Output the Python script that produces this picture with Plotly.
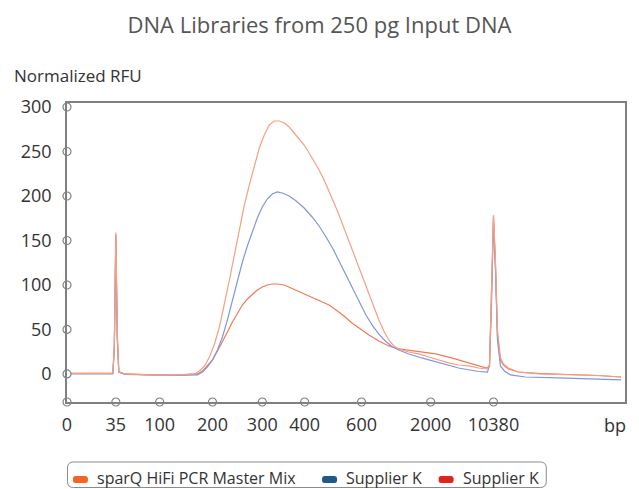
import plotly.graph_objects as go

# ---------------- data ----------------
# x = migration position (arbitrary electropherogram units), y = normalized RFU
x_tick_labels = ["0", "35", "100", "200", "300", "400", "600", "2000", "10380"]
x_tick_pos = [0, 49, 93, 146, 196, 238.5, 295.6, 365, 428]
y_ticks = [0, 50, 100, 150, 200, 250, 300]

sparq_x = [0, 33, 46, 47.5, 49, 50.5, 52, 58, 83, 113, 128, 133, 138, 143, 148, 153, 158, 163, 168,
           173, 178, 183, 188, 193, 198, 203, 208, 213, 218, 223, 228, 233, 238, 243, 248, 253, 258,
           263, 268, 273, 278, 283, 288, 293, 298, 303, 308, 313, 318, 323, 328, 333, 343, 353, 363,
           373, 383, 393, 403, 413, 421, 424, 426, 428, 430, 432, 435, 438, 443, 453, 473, 503, 533, 556]
sparq_y = [0.6, 0.6, 0.6, 32.6, 159, 43.8, 2.8, 0, -1.1, -1.1, 0, 3.4, 9.0, 19.1, 33.7, 52.8, 77.5,
           105.6, 133.7, 161.8, 189.9, 212.4, 234.8, 253.9, 268.5, 279.8, 284.3, 284.3, 282.0, 277.5,
           270.8, 264.0, 257.3, 248.3, 239.3, 229.2, 218.0, 205.6, 192.1, 178.7, 164.0, 148.3, 132.6,
           118.0, 103.4, 88.8, 74.2, 60.7, 48.3, 38.2, 31.5, 28.1, 24.7, 22.5, 19.1, 15.7, 12.4, 10.1,
           9.0, 6.7, 5.6, 7.9, 83.1, 178.7, 128.1, 49.4, 18.0, 11.2, 6.7, 2.2, 0, -0.6, -1.7, -3.4]

supk1_x = [0, 33, 46, 47.5, 49, 50.5, 52, 58, 83, 113, 131, 136, 141, 146, 151, 156, 161, 166, 171,
           176, 181, 186, 191, 196, 201, 206, 211, 216, 223, 230, 238, 246, 253, 260, 267, 273, 280,
           286, 293, 300, 307, 313, 320, 326, 333, 343, 356, 373, 393, 413, 422, 424, 426, 428, 430,
           432, 435, 439, 445, 460, 493, 523, 556]
supk1_y = [0, 0, 0, 27, 155, 38, 2.2, -0.6, -1.1, -1.7, -1.1, 2.2, 7.9, 15.7, 27.0, 41.6, 60.7, 83.1,
           105.6, 125.8, 143.8, 160.7, 175.3, 187.6, 196.6, 202.2, 204.5, 203.4, 200.0, 194.4, 186.5,
           176.4, 166.3, 153.9, 140.4, 127.0, 111.0, 96.3, 80.7, 66.2, 53.8, 44.8, 36.5, 30.8, 27.0,
           22.5, 18.0, 12.4, 6.7, 2.8, 2.2, 10.1, 94.4, 170.8, 116.9, 38.2, 9.0, 3.4, -1.1, -3.4, -4.5,
           -5.6, -6.7]

supk2_x = [0, 33, 46, 47.5, 49, 50.5, 52, 58, 83, 113, 131, 136, 141, 146, 151, 156, 161, 166, 171,
           176, 181, 186, 191, 196, 201, 206, 211, 218, 225, 233, 241, 248, 255, 263, 270, 278, 286,
           293, 303, 313, 323, 333, 353, 370, 386, 403, 413, 421, 424, 426, 428, 430, 432, 435, 438,
           443, 453, 473, 503, 533, 556]
supk2_y = [0.6, 0.6, 0.6, 30, 157, 41.6, 2.2, 0, -1.1, -1.1, 0, 3.4, 9.0, 15.7, 25.8, 36.0, 47.2,
           58.4, 68.5, 77.5, 84.3, 89.9, 94.4, 97.8, 100.0, 101.1, 101.1, 100.0, 96.6, 92.1, 88.8,
           85.4, 82.0, 77.5, 71.9, 65.2, 57.3, 51.7, 43.8, 37.1, 31.5, 28.1, 24.7, 22.5, 18.0, 12.4,
           9.0, 6.7, 9.0, 77.5, 177.5, 122.5, 43.8, 15.7, 10.1, 5.6, 2.2, 0.6, -0.6, -1.7, -3.4]

legend_names = ["sparQ HiFi PCR Master Mix", "Supplier K", "Supplier K"]
legend_colors = ["#f26522", "#1c5a8c", "#e2231a"]
line_colors = ["#f69f81", "#7f97dd", "#f27a55"]

# ---------------- figure ----------------
X_RANGE = [0, 560]
Y_RANGE = [-31.5, 304.5]
W, H = 639, 489
ML, MR, MT, MB = 67, 12, 103, 87
PW, PH = W - ML - MR, H - MT - MB

FONT = "Open Sans, Noto Sans, sans-serif"
TXT = "#333333"
AX = "#808080"

fig = go.Figure()
for xs, ys, c in [(supk2_x, supk2_y, line_colors[2]),
                  (supk1_x, supk1_y, line_colors[1]),
                  (sparq_x, sparq_y, line_colors[0])]:
    fig.add_trace(go.Scatter(x=xs, y=ys, mode="lines", line=dict(color=c, width=1.2),
                             showlegend=False, hoverinfo="skip"))

# open-circle tick markers on the axes
fig.add_trace(go.Scatter(x=x_tick_pos, y=[Y_RANGE[0]] * len(x_tick_pos), mode="markers",
                         marker=dict(symbol="circle", size=8, color="white",
                                     line=dict(color=AX, width=1.2)),
                         cliponaxis=False, showlegend=False, hoverinfo="skip"))
fig.add_trace(go.Scatter(x=[X_RANGE[0]] * len(y_ticks), y=y_ticks, mode="markers",
                         marker=dict(symbol="circle", size=8, color="white",
                                     line=dict(color=AX, width=1.2)),
                         cliponaxis=False, showlegend=False, hoverinfo="skip"))


def pp(px, py):
    return (px - ML) / PW, (H - MB - py) / PH


def rrect(x0, y0, x1, y1, r):
    def P(a, b):
        u, v = pp(a, b)
        return f"{u:.5f},{v:.5f}"
    pts = ["M" + P(x0 + r, y0), "L" + P(x1 - r, y0),
           "Q" + P(x1, y0) + " " + P(x1, y0 + r), "L" + P(x1, y1 - r),
           "Q" + P(x1, y1) + " " + P(x1 - r, y1), "L" + P(x0 + r, y1),
           "Q" + P(x0, y1) + " " + P(x0, y1 - r), "L" + P(x0, y0 + r),
           "Q" + P(x0, y0) + " " + P(x0 + r, y0)]
    return " ".join(pts) + " Z"


shapes = [dict(type="path", xref="paper", yref="paper", path=rrect(67.5, 462, 548, 487.5, 6),
               line=dict(color="#8a8a8a", width=1), fillcolor="white", layer="above")]
annotations = []
sw_x = [73, 323, 440]
tx_x = [95, 345, 462]
for sx, tx, name, col in zip(sw_x, tx_x, legend_names, legend_colors):
    shapes.append(dict(type="path", xref="paper", yref="paper", path=rrect(sx, 476, sx + 15, 483, 2.5),
                       line=dict(width=0), fillcolor=col, layer="above"))
    u, v = pp(tx, 478)
    annotations.append(dict(text=name, x=u, y=v, xref="paper", yref="paper", xanchor="left",
                            yanchor="middle", showarrow=False, font=dict(family=FONT, size=16, color=TXT)))

u, v = pp(12, 75)
annotations.append(dict(text="Normalized RFU", x=u, y=v, xref="paper", yref="paper", xanchor="left",
                        yanchor="middle", showarrow=False, font=dict(family=FONT, size=17, color=TXT)))
u, v = pp(617, 425)
annotations.append(dict(text="bp", x=u, y=v, xref="paper", yref="paper", xanchor="center",
                        yanchor="middle", showarrow=False, font=dict(family=FONT, size=18, color=TXT)))

fig.update_layout(
    width=W, height=H, margin=dict(l=ML, r=MR, t=MT, b=MB),
    paper_bgcolor="white", plot_bgcolor="white",
    title=dict(text="DNA Libraries from 250 pg Input DNA", x=0.5, xanchor="center",
               y=1 - 25 / H, yanchor="middle",
               font=dict(family=FONT, size=22, color="#555555")),
    xaxis=dict(range=X_RANGE, tickvals=x_tick_pos, ticktext=x_tick_labels, showgrid=False,
               zeroline=False, showline=True, mirror=True, linecolor=AX, linewidth=1.5,
               ticks="outside", ticklen=6, tickcolor="rgba(0,0,0,0)",
               tickfont=dict(family=FONT, size=18, color=TXT)),
    yaxis=dict(range=Y_RANGE, tickvals=y_ticks, showgrid=False, zeroline=False, showline=True,
               mirror=True, linecolor=AX, linewidth=1.5, ticks="outside", ticklen=10,
               tickcolor="rgba(0,0,0,0)", tickfont=dict(family=FONT, size=18, color=TXT)),
    shapes=shapes, annotations=annotations, showlegend=False,
)

fig.write_html("out.html", config={"displayModeBar": False},
               post_script="document.body.style.margin='0';document.body.style.padding='0';")
